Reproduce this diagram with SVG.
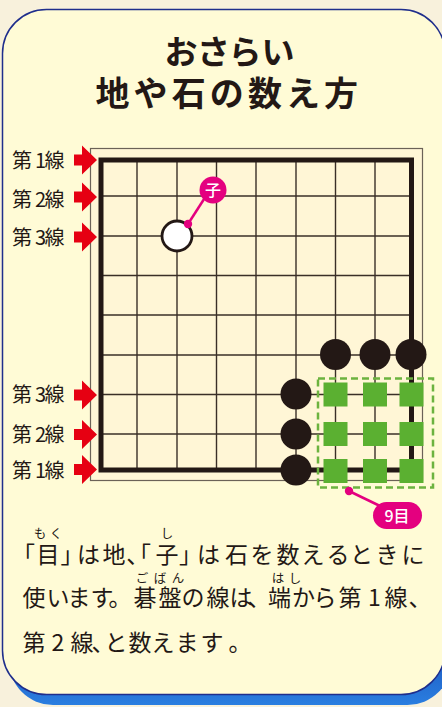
<svg xmlns="http://www.w3.org/2000/svg" width="442" height="707" viewBox="0 0 442 707">
  <defs>
    <style>
      .jp { font-family: "Noto Sans CJK JP", "Noto Sans", sans-serif; fill: #231815; }
      .title { font-size: 33px; font-weight: 700; text-anchor: middle; }
      .body { font-size: 23px; font-weight: 400; text-anchor: middle; }
      .ruby { font-size: 12.5px; font-weight: 400; text-anchor: middle; }
      .lbl { font-size: 20px; font-weight: 400; text-anchor: middle; }
      .grid { stroke: #3a2f27; stroke-width: 1.4; fill: none; }
      .black { fill: #231815; }
      .terr { fill: #5bb031; }
      .arrow { fill: #e60012; }
      .pink { fill: #e4007f; }
      .pinkline { stroke: #e4007f; stroke-width: 2.5; fill: none; }
      .wtext { font-family: "Noto Sans CJK JP", "Noto Sans", sans-serif; fill: #ffffff; text-anchor: middle; font-weight: 500; }
    </style>
    <linearGradient id="shadowGrad" x1="0" y1="0" x2="0" y2="1">
      <stop offset="0" stop-color="#1a3fa8"/>
      <stop offset="0.9" stop-color="#1a4fb8"/>
      <stop offset="1" stop-color="#2a7ee0"/>
    </linearGradient>
    <path id="arr" d="M-23,-5.5 L-15,-5.5 L-15,-14.5 L0,0 L-15,14.5 L-15,5.5 L-23,5.5 Z"/>
  </defs>

  <rect x="0" y="0" width="442" height="707" fill="#f8f1dc"/>

  <g id="card">
    <rect x="9" y="19" width="442.5" height="686" rx="44" fill="url(#shadowGrad)"/>
    <rect x="2.5" y="9.5" width="442.5" height="685" rx="44" fill="#fffbd6" stroke="#1f2e8c" stroke-width="1.5"/>
  </g>

  <g id="title" class="jp">
    <text class="title" x="181 213.5 245 278" y="64">おさらい</text>
    <text class="title" style="font-size:34px" x="112.5 150.6 188.7 226.8 264.9 303 341" y="106">地や石の数え方</text>
  </g>

  <g id="board">
    <rect x="90.5" y="148.5" width="332" height="332" fill="#fff6d6" stroke="#6b6257" stroke-width="1.2"/>
    <g class="grid">
      <line x1="137" y1="160" x2="137" y2="470"/>
      <line x1="177" y1="160" x2="177" y2="470"/>
      <line x1="216.5" y1="160" x2="216.5" y2="470"/>
      <line x1="256" y1="160" x2="256" y2="470"/>
      <line x1="296" y1="160" x2="296" y2="470"/>
      <line x1="335.5" y1="160" x2="335.5" y2="470"/>
      <line x1="375" y1="160" x2="375" y2="470"/>
      <line x1="101" y1="196" x2="411" y2="196"/>
      <line x1="101" y1="236" x2="411" y2="236"/>
      <line x1="101" y1="275.5" x2="411" y2="275.5"/>
      <line x1="101" y1="315" x2="411" y2="315"/>
      <line x1="101" y1="355" x2="411" y2="355"/>
      <line x1="101" y1="394.5" x2="411" y2="394.5"/>
      <line x1="101" y1="434" x2="411" y2="434"/>
    </g>
    <rect x="101" y="160" width="310.5" height="310" fill="none" stroke="#231815" stroke-width="5"/>
  </g>

  <g id="line-labels" class="jp">
    <text class="lbl" x="22 40.5 54.5" y="168">第1線</text>
    <text class="lbl" x="22 40.5 54.5" y="207">第2線</text>
    <text class="lbl" x="22 40.5 54.5" y="245">第3線</text>
    <text class="lbl" x="22 40.5 54.5" y="402">第3線</text>
    <text class="lbl" x="22 40.5 54.5" y="442">第2線</text>
    <text class="lbl" x="22 40.5 54.5" y="478">第1線</text>
  </g>

  <g id="arrows" class="arrow">
    <use href="#arr" x="97" y="160"/>
    <use href="#arr" x="97" y="197"/>
    <use href="#arr" x="97" y="237"/>
    <use href="#arr" x="97" y="395"/>
    <use href="#arr" x="97" y="434.5"/>
    <use href="#arr" x="97" y="469.5"/>
  </g>

  <g id="territory">
    <rect x="318" y="378.5" width="115" height="109" fill="none" stroke="#6cb33f" stroke-width="2.5" stroke-dasharray="7 4"/>
    <g class="terr">
      <rect x="323.5" y="382.5" width="24" height="24"/>
      <rect x="363" y="382.5" width="24" height="24"/>
      <rect x="399.5" y="382.5" width="24" height="24"/>
      <rect x="323.5" y="422" width="24" height="24"/>
      <rect x="363" y="422" width="24" height="24"/>
      <rect x="399.5" y="422" width="24" height="24"/>
      <rect x="323.5" y="459" width="24" height="24"/>
      <rect x="363" y="459" width="24" height="24"/>
      <rect x="399.5" y="459" width="24" height="24"/>
    </g>
  </g>

  <g id="stones">
    <circle cx="177" cy="236" r="15" fill="#ffffff" stroke="#231815" stroke-width="2.8"/>
    <g class="black">
      <circle cx="335.5" cy="354.5" r="15.5"/>
      <circle cx="375" cy="354.5" r="15.5"/>
      <circle cx="411" cy="354.5" r="15.5"/>
      <circle cx="296" cy="394" r="15.5"/>
      <circle cx="296" cy="434" r="15.5"/>
      <circle cx="296" cy="470" r="15.5"/>
    </g>
  </g>

  <g id="connectors">
    <line class="pinkline" x1="188" y1="224" x2="206" y2="196"/>
    <line class="pinkline" x1="349" y1="491" x2="380" y2="506"/>
    <circle class="pink" cx="188" cy="224" r="4.2"/>
    <circle class="pink" cx="349" cy="491" r="4.2"/>
  </g>

  <g id="callout-ko">
    <circle class="pink" cx="213" cy="190" r="13.5"/>
    <text class="wtext" x="213" y="196" font-size="16">子</text>
  </g>

  <g id="callout-9moku">
    <rect class="pink" x="373" y="502" width="49" height="27" rx="13.5"/>
    <text class="wtext" x="397" y="521.5" font-size="16">9目</text>
  </g>

  <g id="body-text" class="jp">
    <text class="ruby" x="40 56" y="538">もく</text>
    <text class="ruby" x="167" y="538">し</text>
    <text class="body" x="23.4 48 72.1 88.5 114 137.75 139.4 167 190.6 208.5 236.5 262 288 313 338 361.5 387 413" y="563">「目」は地、「子」は石を数えるときに</text>
    <text class="ruby" x="142 160 178" y="583">ごばん</text>
    <text class="ruby" x="278 295" y="583">はし</text>
    <text class="body" x="34 58 79 102 120 145 170 193 218 241 259 279.5 303.5 325 350 374.5 396 420" y="606">使います。碁盤の線は、端から第1線、</text>
    <text class="body" x="34 58 82 103 116 140 163 187 212 240" y="651">第2線、と数えます。</text>
  </g>
</svg>
